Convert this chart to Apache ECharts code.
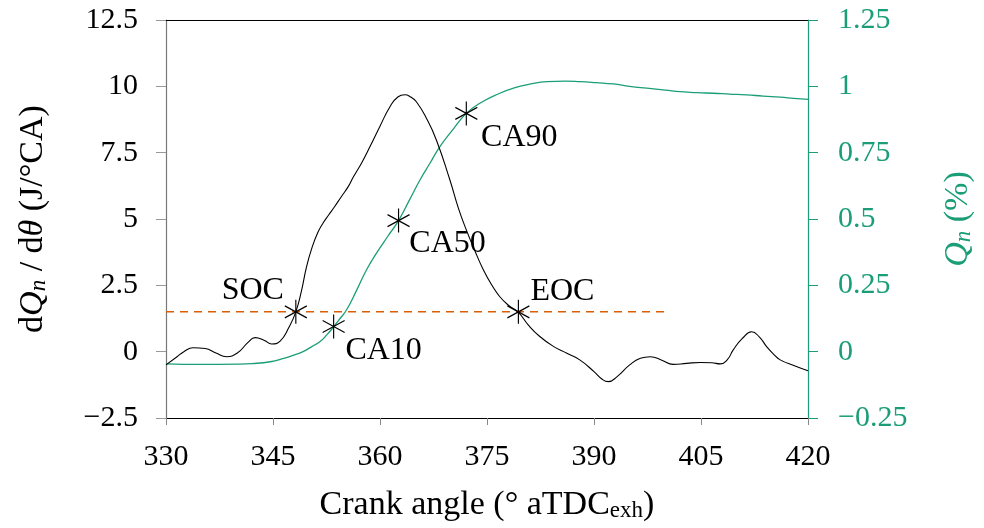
<!DOCTYPE html>
<html>
<head>
<meta charset="utf-8">
<script src="https://cdn.jsdelivr.net/npm/echarts@6/dist/echarts.min.js"></script>
<style>html,body{margin:0;padding:0;background:#fff}#c{width:984px;height:528px}</style>
</head>
<body>
<div id="c"></div>
<script>
// ---- data ----
const hrrAngle = [330,331.5,332.5,333.8,335.5,337,338.5,340,341.5,342.5,343.8,344.8,346,347.2,348.2,349,349.7,350.5,351.3,352,352.8,353.6,354.6,355.5,356.3,357.5,358.6,360,361.4,362.5,363.5,364.3,365.1,366.5,367.9,369.8,371,372.1,373.3,374.5,375.7,376.8,378,379.4,380.8,382.4,384.3,386.2,388,390,391.2,392,393.2,395,396.5,397.9,399.5,401.1,403,404.9,406.5,407.7,408.7,409.5,410.8,412.1,413.2,414.2,415.2,416.1,418,420];
const hrrValue = [-0.5,-0.2,0.0,0.15,0.12,-0.05,-0.19,-0.05,0.35,0.53,0.42,0.29,0.4,0.9,1.5,2.3,3.2,3.95,4.5,4.84,5.15,5.45,5.85,6.2,6.6,7.15,7.73,8.5,9.23,9.6,9.68,9.6,9.42,8.8,7.98,6.47,5.4,4.59,3.8,3.08,2.5,2.07,1.75,1.48,1.0,0.57,0.2,-0.06,-0.31,-0.75,-1.05,-1.13,-0.95,-0.5,-0.25,-0.19,-0.32,-0.48,-0.44,-0.41,-0.42,-0.46,-0.3,0.06,0.5,0.75,0.55,0.19,-0.1,-0.31,-0.52,-0.72];

const qnAngle = [330,335,340,342,344.6,346.5,348.3,349.2,350.5,351.6,352.6,353.5,354.4,355.3,356.7,358.1,359.6,361.1,362.6,364.1,365.6,367,368.4,370.3,372.1,374,376.8,378.7,381,383.4,386,388,390.3,392.7,395,397.4,400,402.1,404.5,406.7,409,411.4,413.7,416.1,418,420];
const qnValue = [-0.046,-0.048,-0.047,-0.045,-0.038,-0.025,-0.009,0.0,0.02,0.038,0.065,0.094,0.125,0.157,0.23,0.308,0.375,0.435,0.494,0.57,0.647,0.71,0.773,0.84,0.898,0.936,0.974,0.993,1.008,1.018,1.02,1.018,1.014,1.009,1.0,0.993,0.986,0.98,0.976,0.974,0.971,0.968,0.963,0.959,0.955,0.951];

const markerNames = ['SOC','CA10','CA50','CA90','EOC'];
const markerAngle = [348.2,353.5,362.6,372.1,379.4];
const markerValue = [1.5,0.95,4.94,8.98,1.5];

const thresholdLevel = 1.5;
const thresholdRange = [330,400];

const xTicks = [330,345,360,375,390,405,420];
const leftTicks = [-2.5,0,2.5,5,7.5,10,12.5];
const rightTicks = [-0.25,0,0.25,0.5,0.75,1,1.25];

// ---- styles ----
const FONT = 'Liberation Serif';
const GREEN = '#1b9e77';
const ORANGE = '#d95f02';
const labelOffsets = {SOC:[-43,-21], CA10:[50,24], CA50:[49,23], CA90:[53,24], EOC:[44,-20]};
const fmt = v => String(v).replace('-', '\u2212');

const zip = (a,b) => a.map((v,i)=>[v,b[i]]);

const chart = echarts.init(document.getElementById('c'), null, {renderer:'canvas'});
const option = {
  animation:false,
  backgroundColor:'#fff',
  grid:{left:166,right:176,top:20,bottom:110,containLabel:false},
  xAxis:[{
    type:'value',min:xTicks[0],max:xTicks[xTicks.length-1],interval:15,position:'bottom',
    axisLine:{show:true,onZero:false,lineStyle:{color:'#000',width:1}},
    axisTick:{show:true,length:7,lineStyle:{color:'#888'}},
    splitLine:{show:false},
    axisLabel:{fontFamily:FONT,fontSize:30,color:'#000',margin:24,formatter:fmt},
    name:'{a|Crank angle (° aTDC}{s|exh}{a|)}',nameLocation:'middle',nameGap:70,
    nameTextStyle:{rich:{a:{fontFamily:FONT,fontSize:34,color:'#000'},s:{fontFamily:FONT,fontSize:23,color:'#000',verticalAlign:'bottom'}}}
  },{
    type:'value',min:xTicks[0],max:xTicks[xTicks.length-1],position:'top',
    axisLine:{show:true,onZero:false,lineStyle:{color:'#000',width:1}},
    axisTick:{show:false},axisLabel:{show:false},splitLine:{show:false}
  }],
  yAxis:[{
    type:'value',min:leftTicks[0],max:leftTicks[leftTicks.length-1],interval:2.5,position:'left',
    axisLine:{show:true,onZero:false,lineStyle:{color:'#777',width:1.2}},
    axisTick:{show:true,length:10,lineStyle:{color:'#999'}},
    splitLine:{show:false},
    axisLabel:{fontFamily:FONT,fontSize:30,color:'#000',margin:28,formatter:fmt},
    name:'{a|d}{i|Q}{si|n}{a| / d}{i|θ}{a| (J/°CA)}',nameLocation:'middle',nameGap:116,
    nameTextStyle:{rich:{a:{fontFamily:FONT,fontSize:34,color:'#000'},i:{fontFamily:FONT,fontSize:34,fontStyle:'italic',color:'#000'},si:{fontFamily:FONT,fontSize:23,fontStyle:'italic',color:'#000',verticalAlign:'bottom'}}}
  },{
    type:'value',min:rightTicks[0],max:rightTicks[rightTicks.length-1],interval:0.25,position:'right',
    axisLine:{show:true,onZero:false,lineStyle:{color:GREEN,width:1.2}},
    axisTick:{show:true,length:10,lineStyle:{color:GREEN}},
    splitLine:{show:false},
    axisLabel:{fontFamily:FONT,fontSize:30,color:GREEN,margin:30,formatter:fmt},
    name:'{i|Q}{si|n}{a| (%)}',nameLocation:'middle',nameGap:133,
    nameTextStyle:{rich:{a:{fontFamily:FONT,fontSize:34,color:GREEN},i:{fontFamily:FONT,fontSize:34,fontStyle:'italic',color:GREEN},si:{fontFamily:FONT,fontSize:23,fontStyle:'italic',color:GREEN,verticalAlign:'bottom'}}}
  }],
  series:[{
    type:'line',name:'Qn',xAxisIndex:0,yAxisIndex:1,data:zip(qnAngle,qnValue),
    showSymbol:false,smooth:0.5,lineStyle:{color:GREEN,width:1.3},z:2
  },{
    type:'line',name:'dQn',xAxisIndex:0,yAxisIndex:0,data:zip(hrrAngle,hrrValue),
    showSymbol:false,smooth:0.5,lineStyle:{color:'#000',width:1.1},z:3
  },{
    type:'line',name:'threshold',xAxisIndex:0,yAxisIndex:0,data:thresholdRange.map(x=>[x,thresholdLevel]),
    showSymbol:false,lineStyle:{color:ORANGE,width:1.5,type:[8,6]},z:4
  },{
    type:'scatter',name:'markers',xAxisIndex:0,yAxisIndex:0,
    data:markerNames.map((n,i)=>({name:n,value:[markerAngle[i],markerValue[i]],label:{offset:labelOffsets[n]}})),
    symbol:'path://M0,0 L0,20 M-8.66,5 L8.66,15 M-8.66,15 L8.66,5',
    symbolSize:[22,24],symbolKeepAspect:false,
    itemStyle:{color:'none',borderColor:'#000',borderWidth:1.2,opacity:1},
    label:{show:true,position:'inside',formatter:p=>p.name,fontFamily:FONT,fontSize:32,color:'#000'},
    z:5
  }]
};
chart.setOption(option);
</script>
</body>
</html>
